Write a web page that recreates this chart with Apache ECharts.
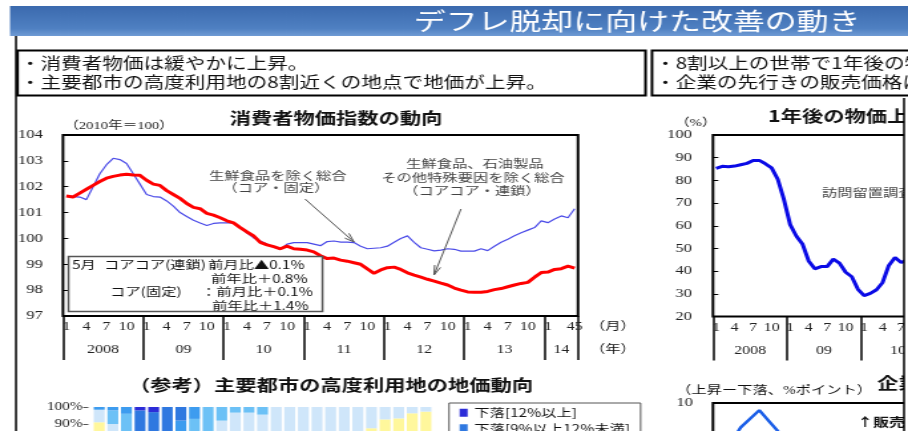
<!DOCTYPE html>
<html>
<head>
<meta charset="UTF-8">
<title>デフレ脱却に向けた改善の動き</title>
<script src="https://cdn.jsdelivr.net/npm/echarts@6/dist/echarts.min.js"></script>
<style>
  html, body { margin: 0; padding: 0; background: #fff; overflow: hidden; }
  /* the source slide is stretched sideways, so draw narrow and widen */
  #main { width: 683px; height: 431px; transform: scaleX(1.32943); transform-origin: 0 0; }
</style>
</head>
<body>
<div id="main"></div>
<script>
var SX = 908 / 683;
function px(v) { return v / SX; }

// months 2008-1 .. 2014-5
var months = [];
for (var yy = 2008; yy <= 2014; yy++) {
  for (var mm = 1; mm <= 12; mm++) {
    if (yy === 2014 && mm > 5) break;
    months.push(yy + '-' + mm);
  }
}
var yearLabels = ['2008', '09', '10', '11', '12', '13', '14'];

// 生鮮食品を除く総合（コア・固定）
var coreFixed = [
  101.65, 101.62, 101.6, 101.5, 102.0, 102.5, 102.85, 103.1, 103.05, 102.9, 102.5, 102.1,
  101.7, 101.62, 101.6, 101.45, 101.25, 101.0, 100.85, 100.7, 100.6, 100.5, 100.58, 100.6,
  100.6, 100.6, 100.42, 100.22, 100.02, 99.9, 99.78, 99.66, 99.58, 99.78, 99.84, 99.84,
  99.84, 99.78, 99.72, 99.88, 99.9, 99.86, 99.86, 99.84, 99.7, 99.6, 99.62, 99.64,
  99.7, 99.85, 100.0, 100.1, 99.85, 99.64, 99.58, 99.52, 99.55, 99.6, 99.58, 99.51,
  99.51, 99.51, 99.6, 99.53, 99.7, 99.85, 99.97, 100.1, 100.22, 100.32, 100.42, 100.68,
  100.61, 100.75, 100.87, 100.8, 101.15
];
// 生鮮食品、石油製品その他特殊要因を除く総合（コアコア・連鎖）
var coreCore = [
  101.64, 101.6, 101.75, 101.9, 102.05, 102.2, 102.33, 102.4, 102.45, 102.48, 102.45, 102.44,
  102.25, 102.1, 102.05, 101.85, 101.7, 101.55, 101.35, 101.2, 101.15, 100.97, 100.9, 100.8,
  100.68, 100.6, 100.42, 100.25, 100.1, 99.85, 99.75, 99.68, 99.6, 99.7, 99.6, 99.58,
  99.55, 99.48, 99.33, 99.22, 99.24, 99.16, 99.12, 99.06, 99.0, 98.82, 98.65, 98.78,
  98.87, 98.89, 98.8, 98.67, 98.58, 98.5, 98.42, 98.35, 98.27, 98.2, 98.08, 98.0,
  97.93, 97.92, 97.92, 97.95, 98.02, 98.06, 98.13, 98.2, 98.26, 98.3, 98.5, 98.68,
  98.7, 98.8, 98.83, 98.93, 98.85
];

// 1年後の物価上昇を予想する世帯の割合（%）
var expectUp = [
  85.3, 86.2, 86.0, 86.3, 86.9, 87.5, 88.8, 88.8, 87.3, 85.5, 80.5, 71.5,
  60.5, 55.5, 52.0, 44.5, 41.0, 42.0, 42.0, 45.3, 43.5, 39.5, 37.5, 32.0,
  29.2, 30.2, 31.8, 35.0, 42.5, 46.0, 43.8, 45.0
];

// 地価動向（四半期、地点の割合 %）
var quarters = [];
for (var qy = 2008; qy <= 2014; qy++) {
  for (var q = 1; q <= 4; q++) {
    if (qy === 2014 && q > 1) break;
    quarters.push(qy + 'Q' + q);
  }
}
var landUp6  = [10, 5, 2, 0, 0, 0, 0, 0, 0, 0, 0, 0, 0, 0, 0, 0, 0, 0, 0, 0, 0, 2, 3, 6, 9];
var landUp3  = [30, 25, 8, 0, 0, 0, 0, 0, 0, 2, 1.7, 1.7, 3.5, 4, 1.3, 2, 2.7, 12, 21.4, 29.6, 37.5, 45.7, 50.3, 60.3, 69.3];
var landFlat = [51, 50, 45, 3, 0, 0, 2, 8, 15, 30, 35, 40, 42, 46, 40, 44, 46, 54, 52, 50, 50, 45, 40, 30, 19];
var landDn0  = [7.4, 10, 21, 10, 5, 5, 10, 35, 45, 60, 60, 55, 50, 50, 58.7, 54, 51.3, 34, 26.6, 20.4, 12.5, 7.3, 6.7, 3.7, 2.7];
var landDn3  = [0, 8, 20, 25, 12, 15, 45, 50, 40, 8, 3.3, 3.3, 4.5, 0, 0, 0, 0, 0, 0, 0, 0, 0, 0, 0, 0];
var landDn6  = [1.6, 2, 4, 30, 35, 40, 35, 7, 0, 0, 0, 0, 0, 0, 0, 0, 0, 0, 0, 0, 0, 0, 0, 0, 0];
var landDn9  = [0, 0, 0, 30, 45, 40, 8, 0, 0, 0, 0, 0, 0, 0, 0, 0, 0, 0, 0, 0, 0, 0, 0, 0, 0];
var landDn12 = [0, 0, 0, 2, 3, 0, 0, 0, 0, 0, 0, 0, 0, 0, 0, 0, 0, 0, 0, 0, 0, 0, 0, 0, 0];

// 販売価格判断DI（上昇－下落、%ポイント）
var salesDI = [-3, 3.9, 8.2, 3.0, -12];

var SERIF = '"Liberation Serif", "Noto Sans CJK JP", serif';
var SANS = '"Noto Sans CJK JP", "Noto Sans", sans-serif';

var chart = echarts.init(document.getElementById('main'));

function T(x, y, text, size, o) {
  o = o || {};
  return {
    type: 'text', x: px(x), y: y, z: o.z || 20,
    style: {
      text: text, fontSize: size, fontFamily: o.font || SANS, fontWeight: o.bold ? 'bold' : 'normal',
      fill: o.color || '#111', textAlign: o.align || 'left', textVerticalAlign: 'middle',
      align: o.align || 'left', verticalAlign: 'middle'
    }
  };
}
function arrow(x1, y1, x2, y2) {
  var a = Math.atan2(y2 - y1, x2 - x1), L = 10, w = 0.32;
  var p1 = [x2 - L * Math.cos(a - w), y2 - L * Math.sin(a - w)];
  var p2 = [x2 - L * Math.cos(a + w), y2 - L * Math.sin(a + w)];
  return [
    { type: 'line', z: 20, shape: { x1: px(x1), y1: y1, x2: px(x2), y2: y2 }, style: { stroke: '#555', lineWidth: 1 } },
    { type: 'polyline', z: 20, shape: { points: [[px(p1[0]), p1[1]], [px(x2), y2], [px(p2[0]), p2[1]]] },
      style: { stroke: '#555', lineWidth: 1, fill: null } }
  ];
}
function monthAxis(grid) {
  var last = months.length - 1;
  return {
    type: 'category', gridIndex: grid, data: months, boundaryGap: true,
    axisLine: { show: false },
    axisTick: { show: true, length: 44, interval: function (i) { return i % 12 === 0; }, lineStyle: { color: '#000', width: 1.5 } },
    axisLabel: {
      margin: 5, fontSize: 12, color: '#222', fontFamily: SERIF, hideOverlap: false, showMaxLabel: true,
      interval: function (i, v) {
        var m = +v.split('-')[1];
        if (i === last) return true;
        if (i === last - 1) return false;
        return m === 1 || m === 4 || m === 7 || m === 10;
      },
      // the last two months (4, 5) are printed jammed together in the source
      formatter: function (v, i) { return i === last ? months[last - 1].split('-')[1] + v.split('-')[1] : v.split('-')[1]; }
    },
    splitLine: { show: false }
  };
}
function yearAxis(grid) {
  return {
    type: 'value', gridIndex: grid, min: 0, max: months.length, interval: 0.5, position: 'bottom',
    axisLine: { show: false }, axisTick: { show: false }, splitLine: { show: false },
    axisLabel: {
      margin: 28, fontSize: 12, color: '#222', fontFamily: SERIF,
      formatter: function (v) {
        for (var k = 0; k < yearLabels.length; k++) {
          var c = k < 6 ? 12 * k + 6 : (72 + months.length) / 2;
          if (Math.abs(v - c) < 0.01) return yearLabels[k];
        }
        return '';
      }
    }
  };
}
var gridBorder = { show: true, borderColor: '#000', borderWidth: 2, backgroundColor: 'rgba(0,0,0,0)', outerBoundsMode: 'none' };

var graphics = [];
// title bar
graphics.push({
  type: 'rect', z: 10, shape: { x: px(10), y: 6, width: px(898), height: 30 },
  style: { fill: new echarts.graphic.LinearGradient(0, 0, 0, 1, [
    { offset: 0, color: '#3b6aae' }, { offset: 0.75, color: '#4f80c2' }, { offset: 1, color: '#6f9bd4' }]) }
});
graphics.push(T(637, 21, 'デフレ脱却に向けた改善の動き', 24, { color: '#fff', align: 'center' }));
// frame and top boxes
graphics.push({ type: 'line', z: 10, shape: { x1: px(16), y1: 36, x2: px(16), y2: 431 }, style: { stroke: '#000', lineWidth: 1.5 } });
graphics.push({ type: 'rect', z: 10, shape: { x: px(17.5), y: 50.5, width: px(628), height: 45 }, style: { fill: '#fff', stroke: '#000', lineWidth: 2 } });
graphics.push({ type: 'rect', z: 10, shape: { x: px(652), y: 50.5, width: px(262), height: 45 }, style: { fill: '#fff', stroke: '#000', lineWidth: 2 } });
graphics.push(T(20, 63, '・消費者物価は緩やかに上昇。', 15.5));
graphics.push(T(20, 82, '・主要都市の高度利用地の8割近くの地点で地価が上昇。', 15.5));
graphics.push(T(655, 63, '・8割以上の世帯で1年後の物価上昇を予想。', 15.5));
graphics.push(T(655, 82, '・企業の先行きの販売価格は上昇の見通し。', 15.5));
// chart 1 texts
graphics.push(T(336, 118, '消費者物価指数の動向', 16, { bold: true, align: 'center' }));
graphics.push(T(64, 126, '（2010年＝100）', 11, { font: SERIF, color: '#222' }));
graphics.push(T(278, 176, '生鮮食品を除く総合', 11.5, { align: 'center', color: '#444' }));
graphics.push(T(276, 188, '（コア・固定）', 11.5, { align: 'center', color: '#444' }));
graphics.push(T(475, 164, '生鮮食品、石油製品', 11.5, { align: 'center', color: '#444' }));
graphics.push(T(473, 178, 'その他特殊要因を除く総合', 11.5, { align: 'center', color: '#444' }));
graphics.push(T(472, 191, '（コアコア・連鎖）', 11.5, { align: 'center', color: '#444' }));
graphics = graphics.concat(arrow(305, 199, 354, 242), arrow(461, 209, 434, 275));
graphics.push({ type: 'rect', z: 15, shape: { x: px(68.5), y: 256.5, width: px(254), height: 55 }, style: { fill: '#fff', stroke: '#555', lineWidth: 1.5 } });
graphics.push(T(72, 265, '5月', 11.5, { z: 21 }));
graphics.push(T(104, 265, 'コアコア(連鎖)：', 11.5, { z: 21 }));
graphics.push(T(208, 265, '前月比▲0.1%', 11.5, { z: 21 }));
graphics.push(T(211, 279, '前年比＋0.8%', 11.5, { z: 21 }));
graphics.push(T(110, 292, 'コア(固定)', 11.5, { z: 21 }));
graphics.push(T(201, 292, '：前月比＋0.1%', 11.5, { z: 21 }));
graphics.push(T(212, 306, '前年比＋1.4%', 11.5, { z: 21 }));
graphics.push(T(590, 327, '（月）', 11.5, { font: SERIF }));
graphics.push(T(590, 350, '（年）', 11.5, { font: SERIF }));
// chart 2 texts
graphics.push(T(768, 116, '1年後の物価上昇を予想する世帯の割合', 16, { bold: true }));
graphics.push(T(675, 123, '（%）', 11, { font: SERIF }));
graphics.push(T(822, 193, '訪問留置調査による', 11.5, { color: '#444' }));
// bottom texts
graphics.push(T(331, 385, '（参考）主要都市の高度利用地の地価動向', 16, { bold: true, align: 'center' }));
graphics.push(T(676, 391, '（上昇ー下落、%ポイント）', 11.5, { font: SERIF }));
graphics.push(T(877, 383, '企業の販売価格判断', 16, { bold: true }));
graphics.push(T(857, 422, '↑販売価格「上昇」超', 12, { bold: true }));
// right edge of the slide
graphics.push({ type: 'rect', z: 30, shape: { x: px(904), y: 98, width: px(10), height: 340 }, style: { fill: '#fff' } });
graphics.push({ type: 'line', z: 31, shape: { x1: px(904), y1: 98, x2: px(904), y2: 431 }, style: { stroke: '#000', lineWidth: 1.5 } });

var landColors = ['#f6b26b', '#ffe066', '#fff79c', '#cfe6fa', '#6cc1f6', '#3d9cef', '#2f78e0', '#2c2cd8'];
var landNames = ['上昇[3%以上6%未満]', '上昇[0%超3%未満]', '横ばい[0%]', '下落[0%超3%未満]',
  '下落[3%以上6%未満]', '下落[6%以上9%未満]', '下落[9%以上12%未満]', '下落[12%以上]'];
var landData = [landUp6, landUp3, landFlat, landDn0, landDn3, landDn6, landDn9, landDn12];
var landSeries = landData.map(function (d, i) {
  return {
    name: landNames[i], type: 'bar', stack: 'land', xAxisIndex: 4, yAxisIndex: 2,
    barWidth: '80%', data: d, itemStyle: { color: landColors[i] }
  };
});

var option = {
  animation: false,
  backgroundColor: '#fff',
  textStyle: { fontFamily: SERIF },
  graphic: graphics,
  legend: {
    data: landNames.slice().reverse(), orient: 'vertical', left: px(449), top: 403, height: 400,
    icon: 'rect', itemWidth: px(8), itemHeight: 8, itemGap: 4, padding: [4, 8],
    borderColor: '#555', borderWidth: 1, backgroundColor: '#fff', selectedMode: false,
    textStyle: { fontSize: 11.5, fontFamily: SANS, color: '#111' }
  },
  grid: [
    Object.assign({ left: px(63), top: 135, width: px(515), height: 181 }, gridBorder),
    Object.assign({ left: px(713), top: 135, width: px(475), height: 181.5 }, gridBorder),
    { left: px(92.4), top: 407, width: px(340.3), height: 170, outerBoundsMode: 'none' },
    Object.assign({ left: px(713), top: 403, width: px(462.5), height: 240 }, gridBorder)
  ],
  xAxis: [
    monthAxis(0), yearAxis(0), monthAxis(1), yearAxis(1),
    { type: 'category', gridIndex: 2, data: quarters, axisLine: { show: false }, axisTick: { show: false }, axisLabel: { show: false } },
    { type: 'category', gridIndex: 3, data: quarters, axisLine: { show: false }, axisTick: { show: false }, axisLabel: { show: false } }
  ],
  yAxis: [
    { type: 'value', gridIndex: 0, min: 97, max: 104, interval: 1, axisLine: { show: false },
      axisTick: { show: true, inside: true, length: 4, lineStyle: { color: '#000' } }, splitLine: { show: false },
      axisLabel: { margin: px(20), fontSize: 12.5, color: '#222', fontFamily: SERIF } },
    { type: 'value', gridIndex: 1, min: 20, max: 100, interval: 10, axisLine: { show: false },
      axisTick: { show: true, inside: true, length: 4, lineStyle: { color: '#000' } }, splitLine: { show: false },
      axisLabel: { margin: px(21), fontSize: 12.5, color: '#222', fontFamily: SERIF } },
    { type: 'value', gridIndex: 2, min: 0, max: 100, interval: 10, offset: px(4), axisLine: { show: false },
      axisTick: { show: true, length: 4, lineStyle: { color: '#555' } }, splitLine: { show: false },
      axisLabel: { margin: px(6), fontSize: 11.5, color: '#222', fontFamily: SERIF, formatter: '{value}%' } },
    { type: 'value', gridIndex: 3, min: -50, max: 10, interval: 10, axisLine: { show: false },
      axisTick: { show: false }, splitLine: { show: false },
      axisLabel: { margin: px(20), fontSize: 12.5, color: '#222', fontFamily: SERIF } }
  ],
  series: [
    { name: 'コア（固定）', type: 'line', xAxisIndex: 0, yAxisIndex: 0, data: coreFixed, showSymbol: false,
      lineStyle: { color: '#4b4be8', width: 1.2 }, z: 3 },
    { name: 'コアコア（連鎖）', type: 'line', xAxisIndex: 0, yAxisIndex: 0, data: coreCore, showSymbol: false,
      lineStyle: { color: '#ff0000', width: 3 }, z: 4 },
    { name: '1年後の物価上昇予想', type: 'line', xAxisIndex: 2, yAxisIndex: 1, data: expectUp, showSymbol: false,
      lineStyle: { color: '#0a0ae6', width: 3 }, z: 3 },
    { name: '販売価格判断DI', type: 'line', xAxisIndex: 5, yAxisIndex: 3, data: salesDI, showSymbol: false,
      lineStyle: { color: '#1a5ee8', width: 2.5 }, z: 3 }
  ].concat(landSeries)
};
chart.setOption(option);
</script>
</body>
</html>
